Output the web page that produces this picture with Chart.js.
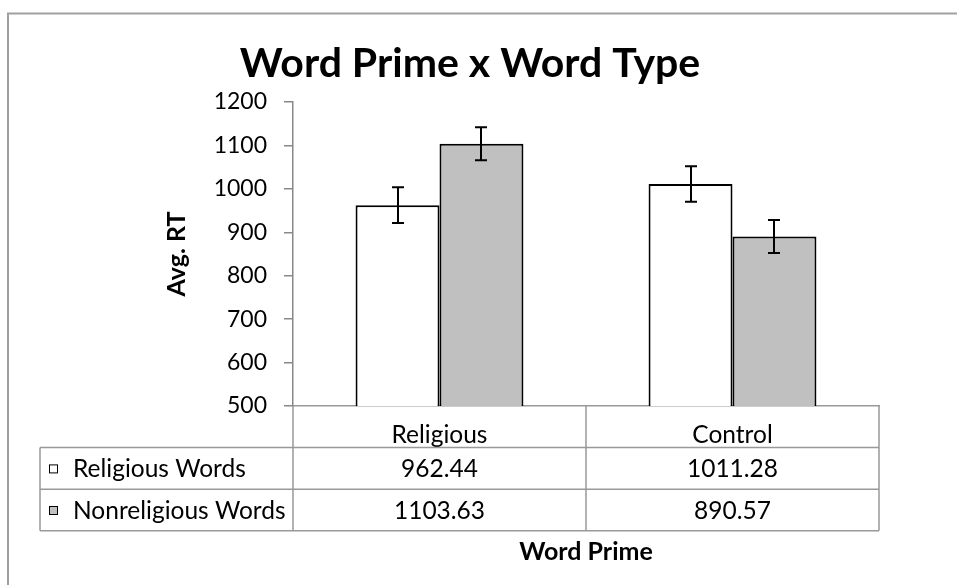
<!DOCTYPE html>
<html><head><meta charset="utf-8">
<script src="https://cdn.jsdelivr.net/npm/chart.js@4/dist/chart.umd.min.js"></script>
<style>html,body{margin:0;padding:0;background:#fff;overflow:hidden;}</style>
</head><body>
<canvas id="c" width="957" height="585" style="display:block;width:957px;height:585px"></canvas>
<script>
// ---- data ----
const categories = ['Religious', 'Control'];
const seriesNames = ['Religious Words', 'Nonreligious Words'];
const religiousWords = [962.44, 1011.28];
const nonreligiousWords = [1103.63, 890.57];
const religiousErr = [41, 41];
const nonreligiousErr = [38, 38];
const yMin = 500, yMax = 1200, yStep = 100;
const chartTitle = 'Word Prime x Word Type';
const xTitle = 'Word Prime';
const yTitle = 'Avg. RT';

const seriesValues = [religiousWords, nonreligiousWords];
const seriesErrors = [religiousErr, nonreligiousErr];
const seriesFill = ['#ffffff', '#c0c0c0'];
const FONT = 'Lato';
const GRAY = '#999999';

const framePlugin = {
  id: 'frame',
  beforeDraw(chart) {
    const ctx = chart.ctx;
    ctx.save();
    ctx.fillStyle = '#fff';
    ctx.fillRect(0, 0, chart.width, chart.height);
    ctx.strokeStyle = '#a0a0a0';
    ctx.lineWidth = 2;
    ctx.beginPath();
    ctx.moveTo(8, chart.height + 5);
    ctx.lineTo(8, 13.5);
    ctx.lineTo(chart.width + 5, 13.5);
    ctx.stroke();
    ctx.restore();
  }
};

const errorBarPlugin = {
  id: 'errorBars',
  afterDatasetsDraw(chart) {
    const ctx = chart.ctx;
    const ys = chart.scales.y;
    ctx.save();
    ctx.strokeStyle = '#000';
    ctx.lineWidth = 2;
    chart.data.datasets.forEach((ds, d) => {
      const meta = chart.getDatasetMeta(d);
      meta.data.forEach((bar, i) => {
        const v = seriesValues[d][i], e = seriesErrors[d][i];
        const yt = ys.getPixelForValue(v + e), yb = ys.getPixelForValue(v - e);
        const x = Math.round(bar.x);
        ctx.beginPath();
        ctx.moveTo(x, yt); ctx.lineTo(x, yb);
        ctx.moveTo(x - 6, yt); ctx.lineTo(x + 6, yt);
        ctx.moveTo(x - 6, yb); ctx.lineTo(x + 6, yb);
        ctx.stroke();
      });
    });
    ctx.restore();
  }
};

const tablePlugin = {
  id: 'dataTable',
  afterDraw(chart) {
    const ctx = chart.ctx;
    const xs = chart.scales.x;
    const area = chart.chartArea;
    const step = xs.getPixelForValue(1) - xs.getPixelForValue(0);
    const bounds = [xs.getPixelForValue(0) - step / 2];
    categories.forEach((c, i) => bounds.push(xs.getPixelForValue(i) + step / 2));
    const left = 40;
    const top = area.bottom;
    const rowH = 41.6;
    const rows = [top + rowH, top + 2 * rowH, top + 3 * rowH];
    ctx.save();
    ctx.strokeStyle = GRAY;
    ctx.lineWidth = 1.5;
    ctx.beginPath();
    bounds.forEach(bx => { ctx.moveTo(bx, top); ctx.lineTo(bx, rows[2]); });
    ctx.moveTo(left, rows[0]); ctx.lineTo(left, rows[2]);
    rows.forEach(ry => { ctx.moveTo(left, ry); ctx.lineTo(bounds[bounds.length - 1], ry); });
    ctx.stroke();

    ctx.font = '24.5px ' + FONT;
    ctx.textBaseline = 'middle';
    seriesNames.forEach((name, d) => {
      const cy = (rows[d] + rows[d + 1]) / 2;
      ctx.fillStyle = seriesFill[d];
      ctx.fillRect(49.5, cy - 3.5, 8, 8);
      ctx.strokeStyle = '#000';
      ctx.lineWidth = 1;
      ctx.strokeRect(49.5, cy - 3.5, 8, 8);
      ctx.fillStyle = '#000';
      ctx.textAlign = 'left';
      ctx.fillText(name, 73, cy + 1);
      ctx.textAlign = 'center';
      seriesValues[d].forEach((v, i) => {
        ctx.fillText(v.toFixed(2), xs.getPixelForValue(i), cy + 1);
      });
    });
    ctx.restore();
  }
};

function build() {
  new Chart(document.getElementById('c'), {
    type: 'bar',
    data: {
      labels: categories,
      datasets: seriesNames.map((name, d) => ({
        label: name,
        data: seriesValues[d],
        backgroundColor: seriesFill[d],
        borderColor: '#000',
        borderWidth: 2,
        borderSkipped: false,
        categoryPercentage: 0.573,
        barPercentage: 1.0
      }))
    },
    options: {
      responsive: false,
      devicePixelRatio: 1,
      animation: false,
      layout: { padding: { left: 61, right: 78, top: 0, bottom: 0 } },
      plugins: {
        legend: { display: false },
        tooltip: { enabled: false },
        title: {
          display: true, text: chartTitle, color: '#000',
          font: { family: FONT, size: 41, weight: 'bold', lineHeight: 1.2 },
          padding: { top: 39.5, bottom: 13.3 }
        }
      },
      scales: {
        x: {
          offset: true,
          grid: { display: false },
          border: { display: true, color: GRAY, width: 1.5 },
          ticks: { color: '#000', font: { family: FONT, size: 24.5 }, padding: 6 },
          title: { display: true, text: xTitle, color: '#000',
                   font: { family: FONT, size: 25, weight: 'bold', lineHeight: 1.2 },
                   padding: { top: 0, bottom: 18 } },
          afterFit(s) { s.height = 179; }
        },
        y: {
          min: yMin, max: yMax,
          grid: { drawOnChartArea: false, drawTicks: true, tickLength: 9, color: '#888', lineWidth: 1.5 },
          border: { display: true, color: '#888', width: 1.5 },
          ticks: { stepSize: yStep, color: '#000', font: { family: FONT, size: 23 }, padding: 17,
                   callback: (v) => String(v) },
          title: { display: true, text: yTitle, color: '#000',
                   font: { family: FONT, size: 25, weight: 'bold', lineHeight: 1.2 },
                   padding: { top: 101, bottom: 0 } },
          afterFit(s) { s.width = 232; }
        }
      }
    },
    plugins: [framePlugin, errorBarPlugin, tablePlugin]
  });
}

Promise.all([
  document.fonts.load('22px ' + FONT),
  document.fonts.load('bold 22px ' + FONT)
]).then(build, build);
</script>
</body></html>
